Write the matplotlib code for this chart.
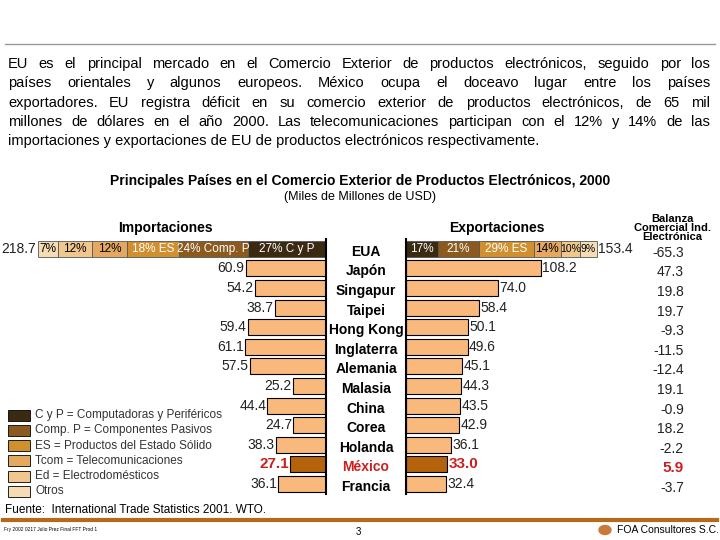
import matplotlib
matplotlib.use("Agg")
import matplotlib.pyplot as plt
from matplotlib.patches import Rectangle
from matplotlib.lines import Line2D

plt.rcParams['font.family'] = ['Liberation Sans', 'DejaVu Sans']

countries = ["EUA", "Japón", "Singapur", "Taipei", "Hong Kong", "Inglaterra", "Alemania",
             "Malasia", "China", "Corea", "Holanda", "México", "Francia"]
imports = [218.7, 60.9, 54.2, 38.7, 59.4, 61.1, 57.5, 25.2, 44.4, 24.7, 38.3, 27.1, 36.1]
exports = [153.4, 108.2, 74.0, 58.4, 50.1, 49.6, 45.1, 44.3, 43.5, 42.9, 36.1, 33.0, 32.4]
balance = ["-65.3", "47.3", "19.8", "19.7", "-9.3", "-11.5", "-12.4", "19.1", "-0.9", "18.2", "-2.2", "5.9", "-3.7"]
seg_names = ["C y P", "Comp. P", "ES", "Tcom", "Ed", "Otros"]
imp_shares = [27, 24, 18, 12, 12, 7]
exp_shares = [17, 21, 29, 14, 10, 9]
imp_labels = ["27% C y P", "24% Comp. P", "18% ES", "12%", "12%", "7%"]
exp_labels = ["17%", "21%", "29% ES", "14%", "10%", "9%"]
legend_labels = ["C y P = Computadoras y Periféricos", "Comp. P = Componentes Pasivos",
                 "ES = Productos del Estado Sólido", "Tcom = Telecomunicaciones",
                 "Ed = Electrodomésticos", "Otros"]

seg_colors = ["#3b2a12", "#8a5a1e", "#d09030", "#e4a860", "#f0c88e", "#f6dcb4"]
seg_txt = ["white", "white", "white", "black", "black", "black"]
bar_c = "#f9b97c"
mex_c = "#b5620c"
red = "#cc1f1f"

W, H = 720, 540
fig = plt.figure(figsize=(7.2, 5.4), dpi=100)

def fx(px): return px / W
def fy(py): return 1 - py / H

n = len(countries)
rowh = 19.6
top = 239.0
bot = top + rowh * n
axL = fig.add_axes([fx(36), fy(bot), fx(326) - fx(36), (bot - top) / H])
axR = fig.add_axes([fx(406), fy(bot), fx(655) - fx(406), (bot - top) / H])
axL.set_xlim(220, 0)
axR.set_xlim(0, 200)
for ax in (axL, axR):
    ax.set_ylim(n - 0.5, -0.5)
    ax.set_xticks([]); ax.set_yticks([])
    for s in ax.spines.values():
        s.set_visible(False)
    ax.patch.set_alpha(0)
axL.spines['right'].set_visible(True)
axR.spines['left'].set_visible(True)
axL.spines['right'].set_linewidth(1.5)
axR.spines['left'].set_linewidth(1.5)

bh = 0.82
for i in range(n):
    if i == 0:
        left = 0
        for sh, c, lab, tc in zip(imp_shares, seg_colors, imp_labels, seg_txt):
            w = imports[0] * sh / 100
            axL.barh(i, w, left=left, height=bh, color=c, edgecolor="#555", lw=0.6)
            axL.text(left + w / 2, i, lab, ha="center", va="center", color=tc, fontsize=8.5)
            left += w
        left = 0
        for sh, c, lab, tc in zip(exp_shares, seg_colors, exp_labels, seg_txt):
            w = exports[0] * sh / 100
            axR.barh(i, w, left=left, height=bh, color=c, edgecolor="#555", lw=0.6)
            axR.text(left + w / 2, i, lab, ha="center", va="center", color=tc,
                     fontsize=8.5 if sh > 12 else 7.5)
            left += w
    else:
        c = mex_c if countries[i] == "México" else bar_c
        axL.barh(i, imports[i], height=bh, color=c, edgecolor="black", lw=0.8)
        axR.barh(i, exports[i], height=bh, color=c, edgecolor="black", lw=0.8)
    mex = countries[i] == "México"
    kw = dict(color=red, fontweight="bold", fontsize=11) if mex else dict(color="#222", fontsize=10)
    axL.text(imports[i] + 1, i, f"{imports[i]:.1f}", ha="right", va="center", **kw)
    axR.text(exports[i] + 1, i, f"{exports[i]:.1f}", ha="left", va="center", **kw)
    yy = top + rowh * (i + 0.5)
    fig.text(fx(366), fy(yy + 3), countries[i], ha="center", va="center", fontweight="bold",
             fontsize=10, color=red if mex else "black")
    fig.text(fx(684), fy(yy + 4), balance[i], ha="right", va="center",
             **(dict(color=red, fontweight="bold", fontsize=11) if mex else dict(color="#222", fontsize=10)))

# headers
fig.text(fx(165), fy(228), "Importaciones", ha="center", va="center", fontweight="bold", fontsize=10)
fig.text(fx(497), fy(228), "Exportaciones", ha="center", va="center", fontweight="bold", fontsize=10)
fig.text(fx(672), fy(228), "Balanza\nComercial Ind.\nElectrónica", ha="center", va="center",
         fontweight="bold", fontsize=8, linespacing=0.9)

# justified paragraph
para = ["EU es el principal mercado en el Comercio Exterior de productos electrónicos, seguido por los",
        "países orientales y algunos europeos. México ocupa el doceavo lugar entre los países",
        "exportadores. EU registra déficit en su comercio exterior de productos electrónicos, de 65 mil",
        "millones de dólares en el año 2000. Las telecomunicaciones participan con el 12% y 14% de las",
        "importaciones y exportaciones de EU de productos electrónicos respectivamente."]
renderer = fig.canvas.get_renderer()
x0, x1 = 8, 710
for k, line in enumerate(para):
    yy = fy(64 + k * 19.3)
    words = line.split()
    if k == len(para) - 1:
        fig.text(fx(x0), yy, line, ha="left", va="center", fontsize=10.5)
        continue
    arts = [fig.text(0, yy, w, ha="left", va="center", fontsize=10.5) for w in words]
    widths = [a.get_window_extent(renderer).width for a in arts]
    gap = (x1 - x0 - sum(widths)) / (len(words) - 1)
    x = x0
    for a, w in zip(arts, widths):
        a.set_x(fx(x))
        x += w + gap

fig.add_artist(Line2D([fx(5), fx(715)], [fy(44), fy(44)], color="#999", lw=1))
fig.text(fx(360), fy(181), "Principales Países en el Comercio Exterior de Productos Electrónicos, 2000",
         ha="center", va="center", fontweight="bold", fontsize=10)
fig.text(fx(360), fy(197), "(Miles de Millones de USD)", ha="center", va="center", fontsize=9)

# legend
for k, (lab, c) in enumerate(zip(legend_labels, seg_colors)):
    yy = 415 + k * 15.3
    fig.add_artist(Rectangle((fx(8), fy(yy + 5.5)), fx(22), 11 / H, facecolor=c, edgecolor="black", lw=0.6))
    fig.text(fx(35), fy(yy), lab, ha="left", va="center", fontsize=8.5, color="#333")

fig.text(fx(5), fy(510), "Fuente:  International Trade Statistics 2001. WTO.", ha="left", va="center", fontsize=8.5)
fig.add_artist(Line2D([fx(3), fx(717)], [fy(520), fy(520)], color="#b46a1a", lw=3))
fig.text(fx(4), fy(529), "Fry 2002 0217 Julio Prez Final FFT Prod 1", ha="left", va="center", fontsize=3.5)
fig.text(fx(358), fy(532), "3", ha="center", va="center", fontsize=7)
fig.add_artist(plt.Circle((fx(605), fy(530)), 6 / W, color="#c87a3a", transform=fig.transFigure))
fig.text(fx(617), fy(530), "FOA Consultores S.C.", ha="left", va="center", fontsize=7.5)

fig.savefig("out.png", dpi=100)
